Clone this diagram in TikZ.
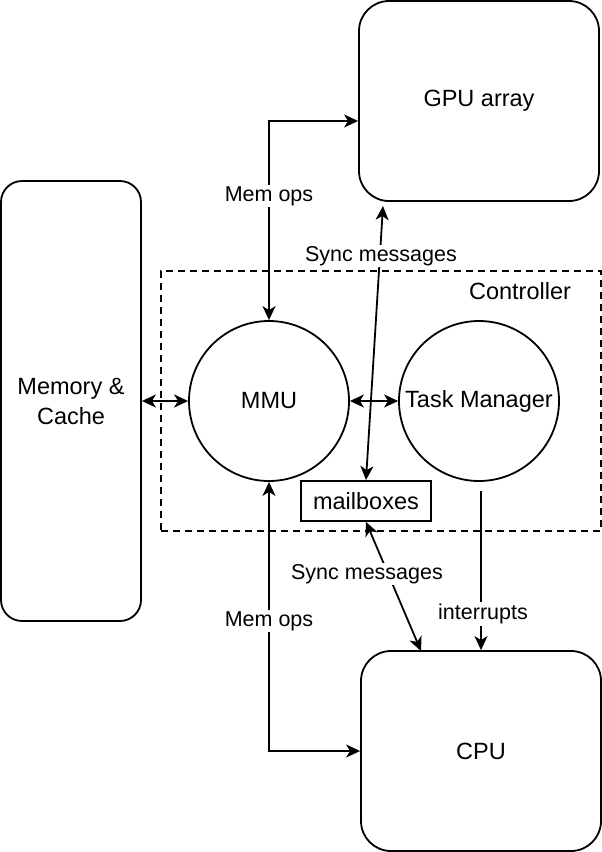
\documentclass[tikz,border=0pt]{standalone}
\usepackage{fontspec}
\setmainfont{Liberation Sans}
\usetikzlibrary{arrows.meta,calc}
\begin{document}
\begin{tikzpicture}[x=1pt,y=-1pt,line width=1.8pt,
  nodefont/.style={font=\fontsize{23.5}{28}\selectfont},
  rbox/.style={draw,nodefont,align=center,inner sep=0pt},
  circ/.style={draw,circle,nodefont,minimum size=160pt,inner sep=0pt},
  lbl/.style={fill=white,font=\fontsize{21.5}{25}\selectfont,inner sep=1.5pt},
  tip/.style={-{Stealth[length=14pt,width=13pt,inset=4pt]}},
  both/.style={{Stealth[length=14pt,width=13pt,inset=4pt]}-{Stealth[length=14pt,width=13pt,inset=4pt]}}]
\useasboundingbox (0,0) rectangle (602,852);
% controller
\node[draw,dash pattern=on 7pt off 5pt,line width=1.6pt,minimum width=440pt,minimum height=260pt,inner sep=0pt] (ctrl) at (381,401) {};
\node[nodefont,inner sep=0pt] (ctrllbl) at (520,291) {Controller};
% boxes
\node[rbox,minimum width=140pt,minimum height=440pt,rounded corners=21pt] (mem) at (71,401) {Memory \&\\[2pt]Cache};
\node[rbox,minimum width=240pt,minimum height=200pt,rounded corners=30pt] (gpu) at (479,101) {\raisebox{-2pt}{GPU array}};
\node[rbox,minimum width=240pt,minimum height=200pt,rounded corners=30pt] (cpu) at (481,751) {\raisebox{-1pt}{CPU}};
\node[circ] (mmu) at (269,401) {MMU};
\node[circ] (tm) at (479,401) {Task Manager};
\node[draw,nodefont,minimum width=130pt,minimum height=40pt,inner sep=0pt] (mbx) at (366,501) {mailboxes};
% connector ends
\coordinate (gs) at (383,206);
\coordinate (cs) at (421,651);
\coordinate (ts) at (481,491);
% connectors
\draw[both] (mmu.north) |- ($(gpu.west)+(0,20)$);
\draw[both] (mmu.south) |- (cpu.west);
\draw[both] (mem.east) -- (mmu.west);
\draw[both] (mmu.east) -- (tm.west);
\draw[both] (mbx.north) -- (gs);
\draw[both] (mbx.south) -- (cs);
\draw[tip] (ts) -- (cpu.north);
% labels
\node[lbl] (l1) at (269,196) {Mem ops};
\node[lbl] (l2) at (269,621) {Mem ops};
\node[lbl] (l3) at (381,256) {Sync messages};
\node[lbl] (l4) at (367,574) {Sync messages};
\node[lbl] (l5) at (483,614) {interrupts};
\end{tikzpicture}
\end{document}
